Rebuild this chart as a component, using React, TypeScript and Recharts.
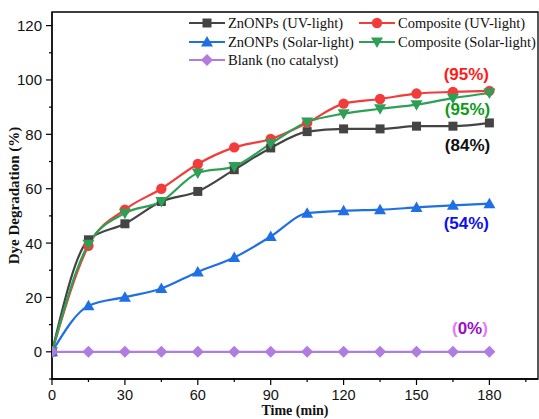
import React from "react";
import { LineChart, Line, XAxis, YAxis, ReferenceArea, ReferenceDot, Legend } from "recharts";

const times = [0, 15, 30, 45, 60, 75, 90, 105, 120, 135, 150, 165, 180];
const znoUV = [0, 41.2, 47.1, 55.3, 59, 67, 75, 81, 82, 82, 83, 83, 84.2];
const compUV = [0, 39, 52.3, 60, 69.1, 75.2, 78.3, 84.2, 91.3, 93, 95, 95.6, 96];
const znoSolar = [0, 16.9, 20.1, 23.3, 29.4, 34.7, 42.4, 51, 51.9, 52.3, 53.1, 53.9, 54.5];
const compSolar = [0, 39.6, 51, 55.3, 65.8, 68.2, 76.6, 84.5, 87.6, 89.4, 90.9, 93.3, 95.2];
const blank = [0, 0, 0, 0, 0, 0, 0, 0, 0, 0, 0, 0, 0];

const xTicks = [0, 15, 30, 45, 60, 75, 90, 105, 120, 135, 150, 165, 180, 195];
const yTicks = [-10, 0, 10, 20, 30, 40, 50, 60, 70, 80, 90, 100, 110, 120];

const seriesNames = [
  "ZnONPs (UV-light)",
  "Composite (UV-light)",
  "ZnONPs (Solar-light)",
  "Composite (Solar-light)",
  "Blank (no catalyst)",
];

const annotations = [
  { x: 170.5, y: 102.3, text: "(95%)", color: "#ff1a1a" },
  { x: 171, y: 89.4, text: "(95%)", color: "#0f9a1a" },
  { x: 171, y: 76.2, text: "(84%)", color: "#111111" },
  { x: 170.5, y: 47.5, text: "(54%)", color: "#1010ee" },
];
const zeroNote = { x: 172, y: 8.8 };

const data = times.map((t, i) => ({
  t,
  a: znoUV[i],
  b: compUV[i],
  c: znoSolar[i],
  d: compSolar[i],
  e: blank[i],
}));

const colors = ["#444444", "#f23c3c", "#1f6fe5", "#2ea055", "#b07ce0"];
const shapes = ["square", "circle", "triangle", "down", "diamond"];

function Marker({ cx, cy, shape, color }: any) {
  if (cx == null || cy == null) return null;
  switch (shape) {
    case "square":
      return <rect x={cx - 4.5} y={cy - 4.5} width={9} height={9} fill={color} />;
    case "circle":
      return <circle cx={cx} cy={cy} r={5.2} fill={color} />;
    case "triangle":
      return <polygon points={`${cx},${cy - 6} ${cx - 6},${cy + 4.5} ${cx + 6},${cy + 4.5}`} fill={color} />;
    case "down":
      return <polygon points={`${cx},${cy + 6} ${cx - 6},${cy - 4.5} ${cx + 6},${cy - 4.5}`} fill={color} />;
    default:
      return <polygon points={`${cx},${cy - 6} ${cx + 6},${cy} ${cx},${cy + 6} ${cx - 6},${cy}`} fill={color} />;
  }
}

function XTick({ x, y, payload }: any) {
  const v = payload.value;
  const major = v % 30 === 0;
  return (
    <g>
      <line x1={x} x2={x} y1={y} y2={y + (major ? 6 : 3)} stroke="#000" strokeWidth={1.2} />
      {major && v <= 180 && (
        <text x={x} y={y + 15.5} textAnchor="middle" dominantBaseline="central" fontFamily="Liberation Sans, Arial, sans-serif" fontSize={14.5} fill="#111">
          {v}
        </text>
      )}
    </g>
  );
}

function YTick({ x, y, payload }: any) {
  const v = payload.value;
  const major = v % 20 === 0;
  return (
    <g>
      <line x1={x - (major ? 6 : 3)} x2={x} y1={y} y2={y} stroke="#000" strokeWidth={1.2} />
      {major && v >= 0 && (
        <text x={x - 10} y={y} textAnchor="end" dominantBaseline="central" fontFamily="Liberation Sans, Arial, sans-serif" fontSize={15} fill="#111">
          {v}
        </text>
      )}
    </g>
  );
}

function LegendContent() {
  const items = [
    { i: 0, left: 188, top: 14 },
    { i: 2, left: 188, top: 33 },
    { i: 4, left: 188, top: 51 },
    { i: 1, left: 358, top: 14 },
    { i: 3, left: 358, top: 33 },
  ];
  return (
    <div style={{ position: "relative", width: 539, height: 80 }}>
      {items.map((it) => (
        <div key={it.i} style={{ position: "absolute", left: it.left, top: it.top, display: "flex", alignItems: "center", height: 18, whiteSpace: "nowrap" }}>
          <svg width={38} height={18} style={{ display: "block" }}>
            <line x1={1} x2={37} y1={9} y2={9} stroke={colors[it.i]} strokeWidth={2.2} />
            <Marker cx={19} cy={9} shape={shapes[it.i]} color={colors[it.i]} />
          </svg>
          <span style={{ fontFamily: "Liberation Serif, Times New Roman, serif", fontSize: 14.5, color: "#111", marginLeft: 2 }}>
            {seriesNames[it.i]}
          </span>
        </div>
      ))}
    </div>
  );
}

function XLabel(props: any) {
  const vb = props.viewBox || {};
  return (
    <text x={vb.x + vb.width / 2} y={vb.y + 36} textAnchor="middle" fontFamily="Liberation Serif, Times New Roman, serif" fontWeight="bold" fontSize={14} fill="#111">
      Time (min)
    </text>
  );
}

export default function App() {
  const keys = ["a", "b", "c", "d", "e"];
  return (
    <div style={{ position: "absolute", left: 0, top: 0, width: 539, height: 419, background: "#fff" }}>
      <style>{`body{margin:0}`}</style>
      <LineChart width={539} height={419} data={data} margin={{ top: 12, right: 1, left: 0, bottom: 0 }}>
        <XAxis
          dataKey="t"
          type="number"
          domain={[0, 200]}
          ticks={xTicks}
          interval={0}
          allowDataOverflow
          height={40}
          tickSize={0}
          tickMargin={0}
          tickLine={false}
          tick={<XTick />}
          axisLine={{ stroke: "#000", strokeWidth: 1.3 }}
          label={<XLabel />}
        />
        <YAxis
          type="number"
          domain={[-10, 125]}
          ticks={yTicks}
          interval={0}
          allowDataOverflow
          width={52}
          tickSize={0}
          tickMargin={0}
          tickLine={false}
          tick={<YTick />}
          axisLine={{ stroke: "#000", strokeWidth: 1.3 }}
          label={{ value: "Dye Degradation (%)", angle: -90, position: "insideLeft", offset: 0, dx: 14, style: { textAnchor: "middle", fontFamily: "Liberation Serif, Times New Roman, serif", fontWeight: "bold", fontSize: 15, fill: "#111" } }}
        />
        <ReferenceArea x1={0} x2={200} y1={-10} y2={125} fill="none" fillOpacity={0} stroke="#000" strokeWidth={1.3} ifOverflow="visible" />
        <Legend
          layout="horizontal"
          verticalAlign="middle"
          align="center"
          content={<LegendContent />}
          wrapperStyle={{ position: "absolute", left: 0, top: 0, width: 539, height: 80 }}
        />
        {keys.map((k, i) => (
          <Line
            key={k}
            dataKey={k}
            name={seriesNames[i]}
            type={k === "e" ? "linear" : "monotone"}
            stroke={colors[i]}
            strokeWidth={2.2}
            isAnimationActive={false}
            dot={(p: any) => <Marker key={`${k}-${p.index}`} cx={p.cx} cy={p.cy} shape={shapes[i]} color={colors[i]} />}
            activeDot={false}
          />
        ))}
        {annotations.map((a, i) => (
          <ReferenceDot
            key={i}
            x={a.x}
            y={a.y}
            r={0}
            fill="none"
            stroke="none"
            ifOverflow="visible"
            label={{ value: a.text, position: "center", style: { fontFamily: "Liberation Sans, Arial, sans-serif", fontWeight: "bold", fontSize: 17, fill: a.color } }}
          />
        ))}
        <ReferenceDot
          x={zeroNote.x}
          y={zeroNote.y}
          r={0}
          fill="none"
          stroke="none"
          ifOverflow="visible"
          label={(props: any) => {
            const vb = props.viewBox || {};
            const cx = vb.x + (vb.width || 0) / 2;
            const cy = vb.y + (vb.height || 0) / 2;
            return (
              <text x={cx} y={cy} textAnchor="middle" dominantBaseline="central" fontFamily="Liberation Sans, Arial, sans-serif" fontWeight="bold" fontSize={17}>
                <tspan fill="#e47cf5">(</tspan>
                <tspan fill="#9a10c8">0%</tspan>
                <tspan fill="#e47cf5">)</tspan>
              </text>
            );
          }}
        />
      </LineChart>
    </div>
  );
}
